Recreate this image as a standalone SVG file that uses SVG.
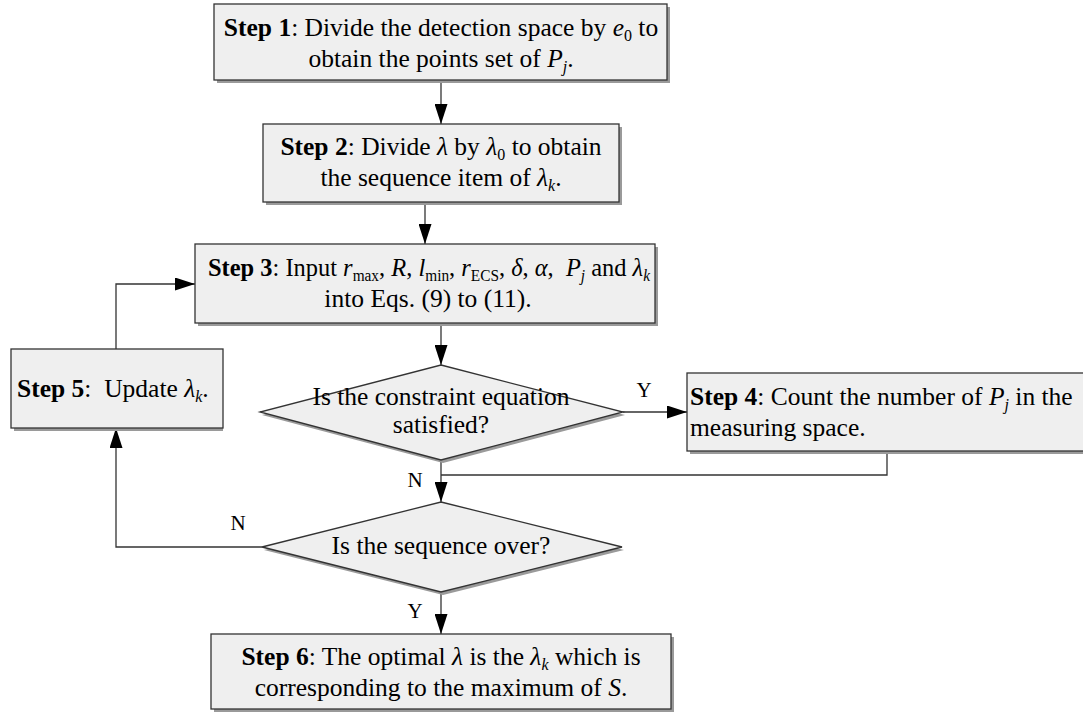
<svg xmlns="http://www.w3.org/2000/svg" width="1083" height="722" viewBox="0 0 1083 722">
<style>
.t{font-family:"Liberation Serif","Times New Roman",serif;font-size:25.5px;fill:#000;white-space:pre}
.b{font-weight:bold}
.i{font-style:italic}
.s{font-size:16px}
.box{fill:#efefef;stroke:#333;stroke-width:1.3}
.sh{fill:#9a9a9a}
.c{fill:none;stroke:#333;stroke-width:1.3}
.lb{font-family:"Liberation Serif","Times New Roman",serif;font-size:21px;fill:#000}
</style>
<defs>
<marker id="ah" viewBox="0 0 20 13" refX="20" refY="6.5" markerWidth="20" markerHeight="13" markerUnits="userSpaceOnUse" orient="auto">
<path d="M0,0 L20,6.5 L0,13 z" fill="#000"/>
</marker>
</defs>
<rect width="1083" height="722" fill="#fff"/>

<g id="connectors">
<path class="c" d="M441,80 V124" marker-end="url(#ah)"/>
<path class="c" d="M425,202 V244" marker-end="url(#ah)"/>
<path class="c" d="M441,323 V365" marker-end="url(#ah)"/>
<path class="c" d="M623,412 H687" marker-end="url(#ah)"/>
<path class="c" d="M887,451 V475 H441"/>
<path class="c" d="M441,460 V502" marker-end="url(#ah)"/>
<path class="c" d="M262,547 H116 V428" marker-end="url(#ah)"/>
<path class="c" d="M116,349 V284 H195" marker-end="url(#ah)"/>
<path class="c" d="M441,592 V634" marker-end="url(#ah)"/>
<text class="lb" x="644" y="397" text-anchor="middle">Y</text>
<text class="lb" x="415" y="487" text-anchor="middle">N</text>
<text class="lb" x="238" y="530" text-anchor="middle">N</text>
<text class="lb" x="415" y="618" text-anchor="middle">Y</text>
</g>

<g id="step1">
<rect class="sh" x="217" y="7" width="453" height="76"/>
<rect class="box" x="214" y="4" width="453" height="76"/>
<text class="t" x="441" y="36" text-anchor="middle"><tspan class="b">Step 1</tspan>: Divide the detection space by <tspan class="i">e</tspan><tspan class="s" dy="5">0</tspan><tspan dy="-5"> to</tspan></text>
<text class="t" x="441" y="67" text-anchor="middle">obtain the points set of <tspan class="i">P</tspan><tspan class="s i" dy="5">j</tspan><tspan dy="-5">.</tspan></text>
</g>

<g id="step2">
<rect class="sh" x="266" y="127" width="356" height="78"/>
<rect class="box" x="263" y="124" width="356" height="78"/>
<text class="t" x="441" y="155" text-anchor="middle"><tspan class="b">Step 2</tspan>: Divide <tspan class="i">λ</tspan> by <tspan class="i">λ</tspan><tspan class="s" dy="5">0</tspan><tspan dy="-5"> to obtain</tspan></text>
<text class="t" x="441" y="186" text-anchor="middle">the sequence item of <tspan class="i">λ</tspan><tspan class="s i" dy="5">k</tspan><tspan dy="-5">.</tspan></text>
</g>

<g id="step3">
<rect class="sh" x="198" y="247" width="460" height="79"/>
<rect class="box" x="195" y="244" width="460" height="79"/>
<text class="t" x="208" y="276" textLength="442" lengthAdjust="spacingAndGlyphs"><tspan class="b">Step 3</tspan>: Input <tspan class="i">r</tspan><tspan class="s" dy="5">max</tspan><tspan dy="-5">, </tspan><tspan class="i">R</tspan>, <tspan class="i">l</tspan><tspan class="s" dy="5">min</tspan><tspan dy="-5">, </tspan><tspan class="i">r</tspan><tspan class="s" dy="5">ECS</tspan><tspan dy="-5">, </tspan><tspan class="i">δ</tspan>, <tspan class="i">α</tspan>,  <tspan class="i">P</tspan><tspan class="s i" dy="5">j</tspan><tspan dy="-5"> and </tspan><tspan class="i">λ</tspan><tspan class="s i" dy="5">k</tspan></text>
<text class="t" x="428" y="307" text-anchor="middle">into Eqs. (9) to (11).</text>
</g>

<g id="step5">
<rect class="sh" x="14" y="352" width="209" height="79"/>
<rect class="box" x="11" y="349" width="212" height="79"/>
<text class="t" x="17" y="397"><tspan class="b">Step 5</tspan>:  Update <tspan class="i">λ</tspan><tspan class="s i" dy="5">k</tspan><tspan dy="-5">.</tspan></text>
</g>

<g id="decision1">
<polygon class="sh" points="443,368 625,415 443,463 262,415"/>
<polygon class="box" points="441,365 623,412 441,460 260,412"/>
<text class="t" x="441" y="405" text-anchor="middle">Is the constraint equation</text>
<text class="t" x="441" y="433" text-anchor="middle">satisfied?</text>
</g>

<g id="step4">
<rect class="sh" x="690" y="376" width="410" height="78"/>
<rect class="box" x="687" y="373" width="410" height="78"/>
<text class="t" x="690" y="405"><tspan class="b">Step 4</tspan>: Count the number of <tspan class="i">P</tspan><tspan class="s i" dy="5">j</tspan><tspan dy="-5"> in the</tspan></text>
<text class="t" x="690" y="436">measuring space.</text>
</g>

<g id="decision2">
<polygon class="sh" points="443,505 624,550 443,595 264,550"/>
<polygon class="box" points="441,502 622,547 441,592 262,547"/>
<text class="t" x="441" y="554" text-anchor="middle">Is the sequence over?</text>
</g>

<g id="step6">
<rect class="sh" x="214" y="637" width="460" height="75"/>
<rect class="box" x="211" y="634" width="460" height="75"/>
<text class="t" x="441" y="665" text-anchor="middle"><tspan class="b">Step 6</tspan>: The optimal <tspan class="i">λ</tspan> is the <tspan class="i">λ</tspan><tspan class="s i" dy="5">k</tspan><tspan dy="-5"> which is</tspan></text>
<text class="t" x="441" y="696" text-anchor="middle">corresponding to the maximum of <tspan class="i">S</tspan>.</text>
</g>
</svg>
